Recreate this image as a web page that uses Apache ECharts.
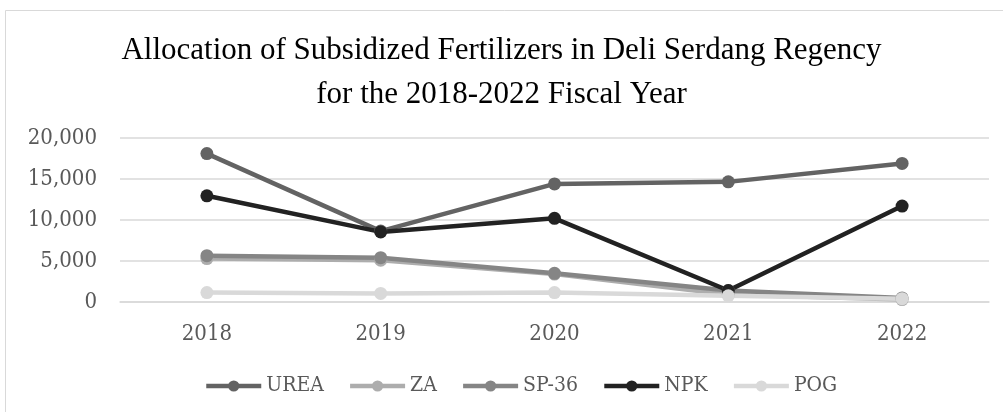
<!DOCTYPE html>
<html><head><meta charset="utf-8">
<script src="https://cdn.jsdelivr.net/npm/echarts@6/dist/echarts.min.js"></script>
<style>html,body{margin:0;padding:0;background:#fff}#c{width:1003px;height:412px}</style>
</head><body><div id="c"></div>
<script>
const categories = ['2018','2019','2020','2021','2022'];
const urea = [18100, 8650, 14400, 14650, 16900];
const za   = [5300, 5100, 3400, 900, 300];
const sp36 = [5650, 5400, 3500, 1400, 500];
const npk  = [12950, 8550, 10200, 1400, 11700];
const pog  = [1150, 1050, 1150, 750, 400];
const seriesNames = ['UREA','ZA','SP-36','NPK','POG'];
const seriesColors = ['#636363','#adadad','#858585','#222222','#d9d9d9'];
const seriesData = [urea, za, sp36, npk, pog];
const labelFont = "'DejaVu Serif Condensed', 'DejaVu Serif', serif";

const chart = echarts.init(document.getElementById('c'), null, {renderer:'canvas'});
chart.setOption({
  animation: false,
  backgroundColor: '#fff',
  graphic: [{type:'rect', shape:{x:5.5,y:10.5,width:1010,height:420}, style:{fill:'none',stroke:'#d9d9d9',lineWidth:1}, silent:true}],
  title: {
    text: 'Allocation of Subsidized Fertilizers in Deli Serdang Regency\nfor the 2018-2022 Fiscal Year',
    left: 'center', top: 24,
    textStyle: {fontFamily:'Liberation Serif', fontSize: 31, fontWeight:'normal', color:'#000', lineHeight: 44}
  },
  legend: {
    top: 369, left: 199, itemWidth: 55, itemHeight: 14, itemGap: 24,
    lineStyle: {width: 4.5},
    textStyle: {fontFamily: labelFont, fontSize: 21, lineHeight: 24, color:'#595959'},
    data: seriesNames
  },
  grid: {left: 120, right: 14, top: 138, bottom: 110, containLabel:false},
  xAxis: {
    type:'category', data: categories, boundaryGap: true,
    axisLine:{lineStyle:{color:'#d9d9d9', width:1.5}}, axisTick:{show:false},
    axisLabel:{fontFamily: labelFont, fontSize:22, color:'#595959', margin: 21}
  },
  yAxis: {
    type:'value', min:0, max:20000, interval:5000,
    axisLine:{show:false}, axisTick:{show:false},
    splitLine:{lineStyle:{color:'#d9d9d9', width:1.5}},
    axisLabel:{fontFamily: labelFont, fontSize:22, color:'#595959', margin: 23,
      formatter: v => v.toLocaleString('en-US')}
  },
  series: seriesNames.map((n,i)=>({
    name:n, type:'line', data: seriesData[i], symbol:'circle', symbolSize:13,
    lineStyle:{width:4.5, color: seriesColors[i]}, itemStyle:{color: seriesColors[i]}
  }))
});
</script></body></html>
